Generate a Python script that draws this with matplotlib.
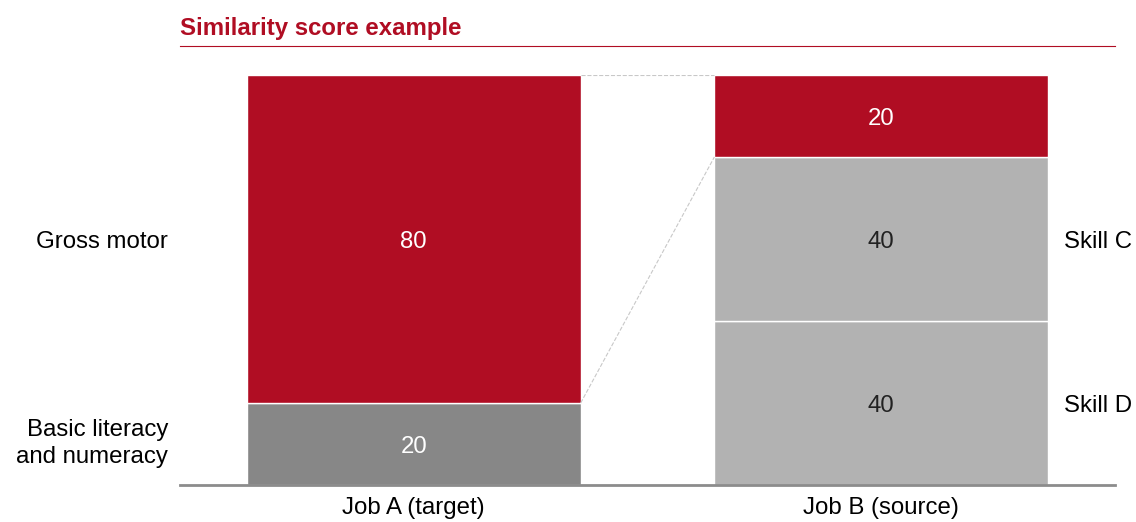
import numpy as np
import matplotlib.pyplot as plt

plt.close('all')
plt.rcParams['font.family'] = ['Liberation Sans', 'DejaVu Sans']

# Dane
jobs = ["Job A (target)", "Job B (source)"]
job_a = [20, 80]          # od dolu: szary, czerwony
job_b = [40, 40, 20]      # od dolu: Skill D, Skill C, czerwony
left_labels = ["Basic literacy\nand numeracy", "Gross motor"]
right_labels = ["Skill D", "Skill C"]

red = "#B00D23"
dark_gray = "#878787"
light_gray = "#B2B2B2"
width = 0.714
fs = 17.3
dy = 0.8   # lekkie przesuniecie tekstu w dol

fig = plt.figure(figsize=(11.36, 5.22), dpi=100)
ax = fig.add_axes([0.1585, 0.0709, 0.823, 0.7854])

# Job A
colors_a = [dark_gray, red]
bottom = 0
for v, c in zip(job_a, colors_a):
    ax.bar(0, v, width, bottom=bottom, color=c, edgecolor="white", linewidth=1)
    ax.text(0, bottom + v / 2 - dy, str(v), ha="center", va="center", color="white", fontsize=fs)
    bottom += v

# Job B
colors_b = [light_gray, light_gray, red]
txt_b = ["#222222", "#222222", "white"]
bottom = 0
for v, c, tc in zip(job_b, colors_b, txt_b):
    ax.bar(1, v, width, bottom=bottom, color=c, edgecolor="white", linewidth=1)
    ax.text(1, bottom + v / 2 - dy, str(v), ha="center", va="center", color=tc, fontsize=fs)
    bottom += v

# linie laczace segmenty czerwone
x0 = 0 + width / 2
x1 = 1 - width / 2
ax.plot([x0, x1], [100, 100], ls="--", color="#C8C8C8", lw=0.8)
ax.plot([x0, x1], [job_a[0], job_b[0] + job_b[1]], ls="--", color="#C8C8C8", lw=0.8)

# etykiety po lewej
ax.text(-0.5 - 0.025, job_a[0] + job_a[1] / 2 - dy, left_labels[1], ha="right", va="center", fontsize=fs)
ax.text(-0.5 - 0.025, job_a[0] / 2 + 1 - dy, left_labels[0], ha="right", va="center", fontsize=fs,
        linespacing=1.3)

# etykiety po prawej
ax.text(1 + width / 2 + 0.034, job_b[0] / 2 - dy, right_labels[0], ha="left", va="center", fontsize=fs)
ax.text(1 + width / 2 + 0.034, job_b[0] + job_b[1] / 2 - dy, right_labels[1], ha="left", va="center",
        fontsize=fs)

ax.set_xlim(-0.5, 1.5)
ax.set_ylim(0, 100)
ax.set_xticks([0, 1])
ax.set_xticklabels(jobs, fontsize=fs)
ax.tick_params(axis="x", length=0, pad=9)
ax.set_yticks([])
for s in ["top", "left", "right"]:
    ax.spines[s].set_visible(False)
ax.spines["bottom"].set_color("#8C8C8C")
ax.spines["bottom"].set_linewidth(2)

# tytul
fig.text(0.1585, 0.946, "Similarity score example", color=red, fontsize=fs,
         fontweight="bold", ha="left", va="center")
fig.add_artist(plt.Line2D([0.1585, 0.9815], [0.912, 0.912], color=red, lw=0.8,
                          transform=fig.transFigure))

fig.savefig("out.png", dpi=100)
